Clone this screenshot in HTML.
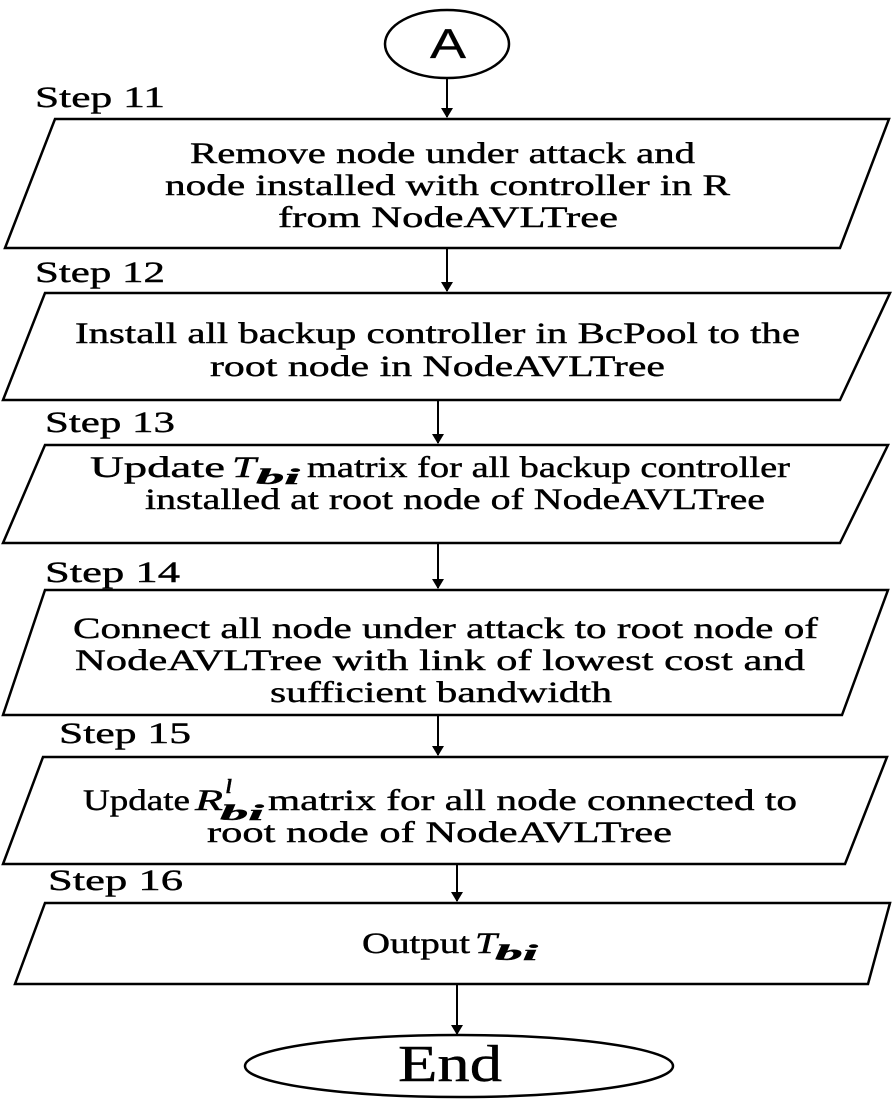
<!DOCTYPE html>
<html><head><meta charset="utf-8"><style>
html,body{margin:0;padding:0;background:#fff}
svg{display:block}
text{font-family:"Liberation Serif",serif;fill:#000;stroke:#000;stroke-width:0.4}
.t{font-size:30px}
.s{font-size:30px}
.i{font-style:italic}
</style></head><body>
<svg width="892" height="1100" viewBox="0 0 892 1100" xmlns="http://www.w3.org/2000/svg">
<defs><marker id="ar" markerWidth="10" markerHeight="12" refX="9" refY="6" orient="auto" markerUnits="userSpaceOnUse"><path d="M0,0 L10,6 L0,12 Z" fill="#000"/></marker></defs>
<g fill="none" stroke="#000" stroke-width="2.5">
<ellipse cx="447" cy="44" rx="62" ry="34"/>
<line x1="447" y1="79" x2="447" y2="117" marker-end="url(#ar)" stroke-width="2"/>
<polygon points="55,119 889,119 840,248 5,248"/>
<line x1="447" y1="248" x2="447" y2="291" marker-end="url(#ar)" stroke-width="2"/>
<polygon points="45,293 890,293 840,400 3,400"/>
<line x1="438" y1="400" x2="438" y2="443" marker-end="url(#ar)" stroke-width="2"/>
<polygon points="45,445 888,445 840,543 3,543"/>
<line x1="438" y1="543" x2="438" y2="588" marker-end="url(#ar)" stroke-width="2"/>
<polygon points="45,590 888,590 842,715 3,715"/>
<line x1="438" y1="715" x2="438" y2="755" marker-end="url(#ar)" stroke-width="2"/>
<polygon points="43,757 887,757 845,864 3,864"/>
<line x1="457" y1="864" x2="457" y2="901" marker-end="url(#ar)" stroke-width="2"/>
<polygon points="45,903 890,903 868,984 15,984"/>
<line x1="457" y1="984" x2="457" y2="1034" marker-end="url(#ar)" stroke-width="2"/>
<ellipse cx="459" cy="1066" rx="214" ry="31"/>
</g>
<text x="430" y="58" style="font-family:'Liberation Sans',sans-serif;font-size:42px;stroke-width:0.3" textLength="36" lengthAdjust="spacingAndGlyphs">A</text>
<text class="s" x="35" y="107" textLength="130" lengthAdjust="spacingAndGlyphs">Step 11</text>
<text class="t" x="190" y="163" textLength="505" lengthAdjust="spacingAndGlyphs">Remove node under attack and</text>
<text class="t" x="165" y="195" textLength="565" lengthAdjust="spacingAndGlyphs">node installed with controller in R</text>
<text class="t" x="278" y="227" textLength="340" lengthAdjust="spacingAndGlyphs">from NodeAVLTree</text>
<text class="s" x="35" y="282" textLength="130" lengthAdjust="spacingAndGlyphs">Step 12</text>
<text class="t" x="75" y="343" textLength="725" lengthAdjust="spacingAndGlyphs">Install all backup controller in BcPool to the</text>
<text class="t" x="210" y="376" textLength="455" lengthAdjust="spacingAndGlyphs">root node in NodeAVLTree</text>
<text class="s" x="45" y="432" textLength="130" lengthAdjust="spacingAndGlyphs">Step 13</text>
<text class="t" x="90" y="477" textLength="135" lengthAdjust="spacingAndGlyphs">Update</text>
<text class="t i" x="232" y="477" textLength="24" lengthAdjust="spacingAndGlyphs">T</text>
<text class="i" font-size="22" x="256" y="484" textLength="44" lengthAdjust="spacingAndGlyphs" font-weight="bold">bi</text>
<text class="t" x="307" y="477" textLength="483" lengthAdjust="spacingAndGlyphs">matrix for all backup controller</text>
<text class="t" x="145" y="509" textLength="620" lengthAdjust="spacingAndGlyphs">installed at root node of NodeAVLTree</text>
<text class="s" x="45" y="582" textLength="135" lengthAdjust="spacingAndGlyphs">Step 14</text>
<text class="t" x="73" y="638" textLength="745" lengthAdjust="spacingAndGlyphs">Connect all node under attack to root node of</text>
<text class="t" x="75" y="670" textLength="730" lengthAdjust="spacingAndGlyphs">NodeAVLTree with link of lowest cost and</text>
<text class="t" x="270" y="702" textLength="342" lengthAdjust="spacingAndGlyphs">sufficient bandwidth</text>
<text class="s" x="59" y="743" textLength="132" lengthAdjust="spacingAndGlyphs">Step 15</text>
<text class="t" x="83" y="810" textLength="107" lengthAdjust="spacingAndGlyphs">Update</text>
<text class="t i" x="195" y="810" textLength="28" lengthAdjust="spacingAndGlyphs">R</text>
<text class="i" font-size="22" x="220" y="820" textLength="44" lengthAdjust="spacingAndGlyphs" font-weight="bold">bi</text>
<text class="i" font-size="20" x="226" y="793" font-weight="bold">l</text>
<text class="t" x="268" y="810" textLength="529" lengthAdjust="spacingAndGlyphs">matrix for all node connected to</text>
<text class="t" x="207" y="842" textLength="465" lengthAdjust="spacingAndGlyphs">root node of NodeAVLTree</text>
<text class="s" x="48" y="890" textLength="135" lengthAdjust="spacingAndGlyphs">Step 16</text>
<text class="t" x="362" y="953" textLength="108" lengthAdjust="spacingAndGlyphs">Output</text>
<text class="t i" x="475" y="953" textLength="22" lengthAdjust="spacingAndGlyphs">T</text>
<text class="i" font-size="22" x="495" y="960" textLength="43" lengthAdjust="spacingAndGlyphs" font-weight="bold">bi</text>
<text x="398" y="1081" style="font-size:52px" textLength="104" lengthAdjust="spacingAndGlyphs">End</text>
</svg>
</body></html>
